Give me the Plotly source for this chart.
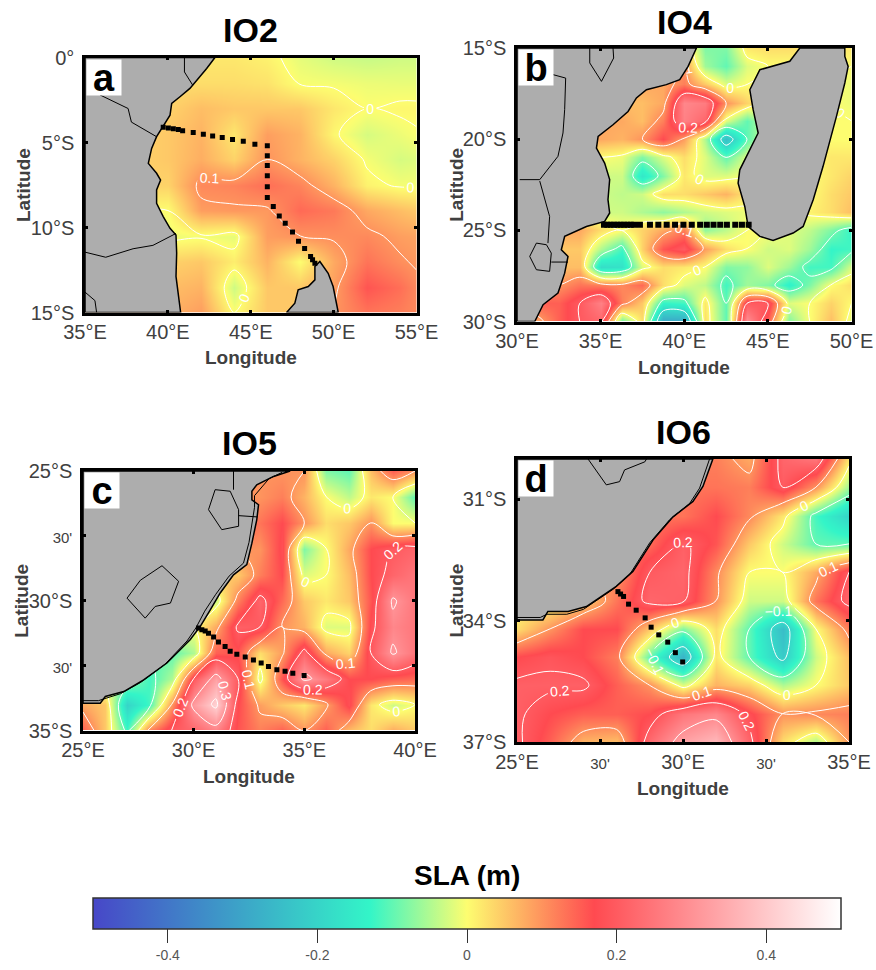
import plotly.graph_objects as go

W, H = 876, 970
GRAY = "#adadad"
TXT = "#404040"
SERIF = "Liberation Sans, Arial, sans-serif"

COLORSCALE_STOPS = [-0.5, -0.13, 0.0, 0.17, 0.5]
COLORSCALE_COLORS = ["#4747c8", "#33f5c8", "#fdfd70", "#ff4a50", "#ffffff"]

# ---------- Panel a (IO2)
LON_A = [35, 38, 40, 42, 44, 46, 48, 50, 52, 54, 55]
LAT_A = [0, -1.5, -3, -4.5, -6, -7.5, -9, -10.5, -12, -13.5, -15]
Z_A = [
    [.03, .03, .03, .02, .02, .01, -.015, -.03, -.035, -.03, -.03],
    [.03, .03, .03, .03, .03, .025, -.003, -.005, -.01, -.012, -.012],
    [.04, .04, .04, .06, .05, .05, .05, .02, .0, .005, .005],
    [.04, .04, .05, .07, .02, .09, .07, .005, -.025, -.01, -.002],
    [.04, .04, .05, .075, .04, .10, .07, .04, -.005, -.025, -.02],
    [.04, .04, .04, .11, .115, .135, .115, .07, .01, -.005, -.005],
    [.0, .0, .0, .09, .095, .095, .14, .125, .08, .06, .05],
    [-.01, -.01, -.01, -.005, -.015, .09, .10, .105, .11, .09, .085],
    [.04, .04, .04, .05, .015, .07, .0, .08, .13, .105, .095],
    [.06, .06, .06, .07, -.03, .05, .05, .09, .16, .135, .11],
    [.07, .07, .07, .09, .0, .05, .05, .10, .13, .12, .11],
]
LAND_A = [
    ([35, 42.84, 42.34, 41.73, 41.33, 40.73, 40.23, 40.13, 39.72, 39.32, 39.02, 38.82, 39.32, 39.56, 39.32, 39.32,
      39.72, 40.13, 40.49, 40.53, 40.49, 40.63, 40.77, 35, 35],
     [0, 0, -.65, -1.33, -1.82, -2.31, -2.7, -3.39, -4.07, -4.66, -5.35, -6.23, -6.81, -7.21, -7.79, -8.58,
      -9.36, -10.05, -10.44, -11.51, -12.88, -13.86, -15, -15, 0]),
    ([50.28, 49.97, 49.67, 49.17, 48.87, 48.87, 48.47, 47.86, 47.66, 47.16, 50.28],
     [-15, -13.47, -12.69, -12.0, -12.3, -13.08, -13.47, -13.67, -14.45, -15, -15]),
]
BORDERS_A = [
    ([35.9, 37.6, 37.8, 39.32], [-2.2, -3.0, -3.8, -4.66]),
    ([35, 36.25, 37.9, 39.1, 40.49], [-11.45, -11.75, -11.25, -11.05, -10.35]),
    ([41.0, 41.0, 41.5], [0, -.85, -1.63]),
    ([35, 35.6, 35.7], [-13.8, -14.3, -15]),
]
SEC_LON_A = [39.72, 40.03, 40.33, 40.63, 40.89, 41.53, 42.14, 42.70, 43.28, 43.90, 44.55, 45.25, 46.0, 46, 46, 46, 46,
             46, 46.36, 46.72, 47.08, 47.52, 47.88, 48.25, 48.61, 48.73, 48.87]
SEC_LAT_A = [-4.11, -4.15, -4.19, -4.23, -4.31, -4.41, -4.52, -4.62, -4.70, -4.82, -4.93, -5.11, -5.19, -5.78, -6.36,
             -6.95, -7.6, -8.24, -8.77, -9.32, -9.75, -10.26, -10.81, -11.24, -11.71, -11.9, -12.1]

# ---------- Panel b (IO4)
LON_B = [30, 31.25, 32.5, 33.75, 35, 36.25, 37.5, 38.75, 40, 41.25, 42.5, 43.75, 45, 46.25, 47.5, 48.75, 50]
LAT_B = [-15, -16, -17, -18, -19, -20, -21, -22, -23, -24, -25, -26, -27, -28, -29, -30]
Z_B = [
    [.05, .05, .05, .05, .05, .05, .05, .05, .05, -.08, -.08, .02, .03, .03, .02, .02, .02],
    [.08, .08, .08, .08, .08, .08, .08, .08, .10, -.06, -.10, -.02, .0, .0, .0, .0, .0],
    [.08, .08, .08, .08, .08, .08, .08, .08, .12, .05, -.02, .0, .0, .0, .0, .0, -.01],
    [.06, .06, .06, .06, .06, .06, .06, .08, .28, .26, .10, .04, .0, .0, .0, .0, -.01],
    [.08, .08, .08, .08, .08, .08, .06, .12, .27, .22, -.02, -.10, -.02, .0, .0, .0, .0],
    [.08, .08, .08, .08, .08, .07, .10, .17, .09, -.05, -.25, -.10, -.02, .0, .0, .0, .0],
    [.0, .0, .0, .0, .0, -.01, -.08, -.02, .03, -.02, -.10, -.02, .0, .0, .0, .02, .02],
    [-.03, -.03, -.03, -.03, -.03, -.03, -.16, -.08, .02, -.02, -.02, .0, .0, .0, .0, .02, .04],
    [-.03, -.03, -.03, -.03, -.03, -.04, -.03, .03, .03, .05, .07, .02, .0, .0, .0, .03, .05],
    [-.03, -.03, -.03, -.03, -.03, -.03, -.05, -.07, -.05, -.03, -.02, -.01, .0, .0, .01, .03, .06],
    [.08, .08, .08, .08, .03, .0, .04, .08, .12, -.07, -.04, .0, .0, -.02, -.04, -.08, -.13],
    [.05, .05, .05, .05, -.05, -.12, .04, .16, .2, .09, .03, .0, -.03, -.02, -.06, -.13, -.12],
    [.06, .06, .06, .06, -.18, -.17, -.02, .03, .02, .0, -.08, -.07, -.02, -.06, -.12, -.12, -.02],
    [.1, .1, .1, .13, .12, .11, .14, .03, -.02, -.04, -.12, -.06, -.08, -.14, -.08, .0, .03],
    [.15, .15, .15, .2, .27, .12, .05, -.13, -.12, .02, -.1, .2, .2, -.02, .0, .04, .0],
    [.08, .08, .15, .2, .22, -.1, .03, -.3, -.3, .03, -.1, .3, .15, -.08, .0, .06, -.02],
]
LAND_B = [
    ([30, 40.73, 40.23, 39.73, 38.93, 37.74, 37.14, 36.64, 35.74, 34.85, 34.75, 35.24, 35.54, 35.44, 35.54, 35.24,
      34.15, 32.85, 32.65, 33.05, 32.85, 32.45, 31.56, 31.06, 30, 30],
     [-15, -15, -16.01, -16.74, -17.01, -17.29, -17.74, -18.48, -19.21, -19.85, -20.49, -21.31, -22.22, -23.32, -24.05, -24.51,
      -24.79, -25.33, -26.07, -26.43, -27.35, -28.44, -29.08, -30, -30, -15]),
    ([46.91, 46.31, 44.52, 43.92, 44.12, 44.42, 43.32, 43.22, 43.62, 43.82, 44.52, 45.31, 46.51, 47.11, 47.71, 48.30,
      49.10, 49.60, 49.80, 49.60, 49.60, 46.91],
     [-15, -15.73, -16.19, -17.29, -18.38, -19.66, -21.68, -22.41, -23.69, -24.79, -25.33, -25.55, -25.15, -24.79, -23.32, -21.49,
      -18.75, -16.92, -16.01, -15.46, -15, -15]),
]
BORDERS_B = [
    ([34.35, 34.35, 35.05, 35.78, 35.74], [-15, -15.82, -16.83, -15.55, -15]),
    ([32.15, 32.91, 32.85, 32.75, 32.45, 31.36, 30.16], [-16.46, -16.65, -18.38, -19.66, -20.94, -22.22, -22.22]),
    ([31.36, 31.95, 31.85], [-22.3, -24.24, -25.7]),
    ([31.16, 30.76, 31.16, 31.95, 32.05, 31.76, 31.16], [-25.7, -26.43, -27.16, -27.25, -26.25, -25.79, -25.7]),
    ([32.05, 33.05], [-26.74, -26.74]),
]
SEC_LON_B = [35.2, 35.4, 35.6, 35.8, 36, 36.2, 36.4, 36.6, 36.8, 37.0, 37.35, 37.95, 38.45, 38.95, 39.45, 39.95, 40.45,
             40.95, 41.35, 41.75, 42.15, 42.55, 43.05, 43.45, 43.85]
SEC_LAT_B = [-24.7] * 25

# ---------- Panel c (IO5)
LON_C = [25, 26, 27, 28, 29, 30, 31, 32, 33, 34, 35, 36, 37, 38, 39, 40]
LAT_C = [-25, -26, -27, -28, -29, -30, -31, -32, -33, -34, -35]
Z_C = [
    [.1, .1, .1, .1, .1, .1, .1, .1, .1, .1, .1, -.08, -.1, .06, .15, .1],
    [.1, .1, .1, .1, .1, .1, .1, .1, .1, .12, .07, .0, -.04, .02, .0, -.1],
    [.1, .1, .1, .1, .1, .1, .1, .15, .13, .17, .1, .03, .05, .1, .0, .0],
    [.1, .1, .1, .1, .1, .1, .1, .1, .1, .18, -.08, .0, .08, .17, .2, .22],
    [.05, .05, .05, .05, .05, .05, .05, .05, .12, .17, -.02, .0, .06, .17, .22, .25],
    [-.03, -.03, -.03, -.03, -.03, -.03, -.03, .12, .22, .14, .05, .02, .05, .16, .31, .25],
    [.0, .0, .0, .0, .0, .0, .08, .21, .2, .1, .07, -.02, -.02, .18, .28, .25],
    [-.1, -.1, -.1, -.1, -.1, -.05, .15, .16, .03, .09, .22, .08, .04, .2, .31, .25],
    [-.05, -.05, -.05, -.12, -.05, .2, .33, .2, -.02, .16, .32, .26, .17, .17, .15, .14],
    [.08, .05, -.2, -.12, .1, .32, .42, .17, .09, .05, .02, .09, .18, .02, -.03, .0],
    [.15, .05, -.12, .12, .2, .22, .27, .16, .12, .15, .1, .15, .06, .03, .08, .05],
]
LAND_C = [
    ([25, 34.36, 33.61, 32.85, 32.63, 32.63, 32.93, 32.85, 32.63, 32.40, 31.80, 31.2, 30.75, 30.3, 29.84, 28.79, 27.74,
      26.84, 26.01, 25.78, 25, 25],
     [-25, -25, -25.21, -25.53, -25.78, -26.11, -26.3, -26.88, -27.78, -28.61, -29.0, -29.7, -30.35, -30.99, -31.5, -32.4, -33.05,
      -33.5, -33.69, -33.95, -33.95, -25]),
]
BORDERS_C = [
    ([31.8, 31.8], [-25, -25.72]),
    ([30.97, 30.67, 31.27, 32.03, 32.03, 31.65, 30.97], [-25.72, -26.49, -27.26, -27.13, -26.49, -25.78, -25.72]),
    ([32.03, 32.88], [-26.72, -26.77]),
    ([28.57, 29.32, 28.95, 28.26, 27.81, 26.99, 27.59, 28.57], [-28.65, -29.25, -30.09, -30.22, -30.67, -29.9, -29.21, -28.65]),
    ([34.0, 33.4, 32.75, 32.75, 32.5, 32.25, 31.6, 31.0, 30.5, 30.1, 29.7, 28.7, 27.6, 26.7, 25.95, 25.7, 25],
     [-25.05, -25.3, -25.95, -26.4, -27.75, -28.55, -29.05, -29.75, -30.4, -31.05, -31.55, -32.45, -33.15, -33.58, -33.78, -33.85, -33.85]),
]
SEC_LON_C = [30.22, 30.37, 30.52, 30.67, 30.9, 31.12, 31.42, 31.65, 31.95, 32.33, 32.70, 33.05, 33.38, 33.76, 34.13, 34.48, 34.99]
SEC_LAT_C = [-31.05, -31.12, -31.17, -31.25, -31.4, -31.59, -31.76, -31.95, -32.06, -32.17, -32.28, -32.4, -32.53, -32.66, -32.72, -32.79, -32.88]

# ---------- Panel d (IO6)
LON_D = [25, 26, 27, 28, 29, 30, 31, 32, 33, 34, 35]
LAT_D = [-30, -30.7, -31.4, -32.1, -32.8, -33.5, -34.2, -34.9, -35.6, -36.3, -37]
Z_D = [
    [.12, .12, .12, .12, .12, .12, .12, .08, .22, .25, .02],
    [.13, .13, .13, .13, .13, .13, .13, .12, .2, .1, -.06],
    [.13, .13, .13, .13, .13, .13, .17, .11, .02, -.12, -.2],
    [.14, .14, .14, .14, .14, .21, .16, .05, -.03, -.1, -.1],
    [.1, .1, .1, .1, .2, .22, .11, .0, .0, .08, .2],
    [.0, .0, .04, .13, .22, .21, .1, -.03, -.03, .13, .22],
    [.03, .1, .17, .17, .05, -.08, .03, -.1, -.25, .0, .12],
    [.17, .19, .17, .12, -.1, -.27, .02, -.1, -.22, -.03, .06],
    [.21, .21, .21, .15, .1, -.02, .07, .04, -.05, .0, .05],
    [.21, .17, .15, .15, .17, .25, .28, .18, .1, .11, .12],
    [.21, .15, .07, .06, .23, .33, .37, .22, .03, -.05, .1],
]
LAND_D = [
    ([25, 30.9, 30.6, 30.3, 29.7, 29.1, 28.49, 27.99, 27.09, 26.54, 25.93, 25.78, 25, 25],
     [-30, -30, -30.68, -31.05, -31.43, -32.0, -32.78, -33.15, -33.65, -33.77, -33.77, -33.98, -33.98, -30]),
]
BORDERS_D = [
    ([27.14, 27.69, 28.09, 28.24, 28.85, 28.9], [-30, -30.64, -30.56, -30.27, -30.07, -30]),
    ([30.8, 30.5, 30.2, 29.6, 29.0, 28.4, 27.9, 27.0, 26.5, 25.9, 25.7, 25],
     [-30, -30.72, -31.1, -31.5, -32.07, -32.85, -33.22, -33.72, -33.84, -33.84, -33.92, -33.92]),
]
SEC_LON_D = [28.04, 28.12, 28.21, 28.36, 28.59, 28.86, 29.04, 29.27, 29.54, 29.77, 29.99]
SEC_LAT_D = [-33.28, -33.34, -33.4, -33.59, -33.74, -33.93, -34.16, -34.35, -34.53, -34.79, -35.02]

TITLES = ["IO2", "IO4", "IO5", "IO6"]
LETTERS = ["a", "b", "c", "d"]
XTICKS = [[35, 40, 45, 50, 55], [30, 35, 40, 45, 50], [25, 30, 35, 40], [25, 27.5, 30, 32.5, 35]]
XTEXT = [["35°E", "40°E", "45°E", "50°E", "55°E"], ["30°E", "35°E", "40°E", "45°E", "50°E"],
         ["25°E", "30°E", "35°E", "40°E"],
         ["25°E", "<span style='font-size:15px'>30'</span>", "30°E", "<span style='font-size:15px'>30'</span>", "35°E"]]
YTICKS = [[0, -5, -10, -15], [-15, -20, -25, -30], [-25, -27.5, -30, -32.5, -35], [-31, -34, -37]]
YTEXT = [["0°", "5°S", "10°S", "15°S"], ["15°S", "20°S", "25°S", "30°S"],
         ["25°S", "<span style='font-size:15px'>30'</span>", "30°S", "<span style='font-size:15px'>30'</span>", "35°S"],
         ["31°S", "34°S", "37°S"]]
XRANGE = [[35, 55], [30, 50], [25, 40], [25, 35]]
YRANGE = [[-15, 0], [-30, -15], [-35, -25], [-37, -30]]
CB_TICKS = [-0.4, -0.2, 0, 0.2, 0.4]
CB_TEXT = ["-0.4", "-0.2", "0", "0.2", "0.4"]

# pixel boxes in the page: left, right, top, bottom
BOXES = [(85, 416.5, 57.5, 312.5), (517, 851.5, 48, 321.5), (83, 415, 471, 730.5), (517, 849, 459, 742)]
TITLE_Y = [30, 22, 443, 432]
LON_LAB_Y = [357, 367, 776, 788]
LAT_LAB_X = [23, 457, 22, 456]
SEC_SIZE = [5, 6, 5, 5]


def fx(px):
    return px / W


def fy(py):
    return 1 - py / H


DATA = [
    (LON_A, LAT_A, Z_A, LAND_A, BORDERS_A, SEC_LON_A, SEC_LAT_A),
    (LON_B, LAT_B, Z_B, LAND_B, BORDERS_B, SEC_LON_B, SEC_LAT_B),
    (LON_C, LAT_C, Z_C, LAND_C, BORDERS_C, SEC_LON_C, SEC_LAT_C),
    (LON_D, LAT_D, Z_D, LAND_D, BORDERS_D, SEC_LON_D, SEC_LAT_D),
]

fig = go.Figure()
annotations = []
layout_axes = {}
for i, (lon, lat, z, land, borders, slon, slat) in enumerate(DATA):
    sx = "" if i == 0 else str(i + 1)
    xa, ya = "x" + sx, "y" + sx
    L, R, T, B = BOXES[i]
    fig.add_trace(go.Contour(
        x=lon, y=lat, z=z, xaxis=xa, yaxis=ya, coloraxis="coloraxis", name=TITLES[i],
        contours=dict(coloring="heatmap", showlabels=True, start=-0.4, end=0.4, size=0.1,
                      labelfont=dict(color="white", size=14, family=SERIF)),
        line=dict(color="white", width=1, smoothing=1.0),
        showlegend=False, hoverinfo="skip",
    ))
    for lx, ly in land:
        fig.add_trace(go.Scatter(x=lx, y=ly, xaxis=xa, yaxis=ya, mode="lines", fill="toself", fillcolor=GRAY,
                                 line=dict(color="black", width=1.5), showlegend=False, hoverinfo="skip"))
    for bx, by in borders:
        fig.add_trace(go.Scatter(x=bx, y=by, xaxis=xa, yaxis=ya, mode="lines",
                                 line=dict(color="black", width=1), showlegend=False, hoverinfo="skip"))
    fig.add_trace(go.Scatter(x=slon, y=slat, xaxis=xa, yaxis=ya, mode="markers",
                             marker=dict(symbol="square", color="black", size=SEC_SIZE[i]),
                             showlegend=False, hoverinfo="skip"))
    common = dict(showgrid=False, zeroline=False, showline=True, linecolor="black", linewidth=2.5, mirror="ticks",
                  ticks="inside", ticklen=3, tickwidth=3, tickcolor="black",
                  tickfont=dict(size=20, color=TXT, family=SERIF))
    layout_axes["xaxis" + sx] = dict(domain=[fx(L), fx(R)], range=XRANGE[i], anchor=ya, tickmode="array",
                                     tickvals=XTICKS[i], ticktext=XTEXT[i], **common)
    layout_axes["yaxis" + sx] = dict(domain=[fy(B), fy(T)], range=YRANGE[i], anchor=xa, tickmode="array",
                                     tickvals=YTICKS[i], ticktext=YTEXT[i], ticklabelstandoff=4, **common)
    cx = (L + R) / 2
    annotations.append(dict(text="<b>%s</b>" % TITLES[i], x=fx(cx), y=fy(TITLE_Y[i]), xref="paper", yref="paper",
                            showarrow=False, xanchor="center", yanchor="middle",
                            font=dict(size=34, color="black", family=SERIF)))
    annotations.append(dict(text="<b>Longitude</b>", x=fx(cx), y=fy(LON_LAB_Y[i]), xref="paper", yref="paper",
                            showarrow=False, xanchor="center", yanchor="middle",
                            font=dict(size=19, color=TXT, family=SERIF)))
    annotations.append(dict(text="<b>Latitude</b>", x=fx(LAT_LAB_X[i]), y=fy((T + B) / 2), xref="paper", yref="paper",
                            showarrow=False, xanchor="center", yanchor="middle", textangle=-90,
                            font=dict(size=19, color=TXT, family=SERIF)))
    annotations.append(dict(text="<b>%s</b>" % LETTERS[i], x=fx(L + 1), y=fy(T + 1), xref="paper", yref="paper",
                            showarrow=False, xanchor="left", yanchor="top", bgcolor="white", width=34, height=35,
                            borderpad=0, font=dict(size=38, color="black", family=SERIF)))

annotations.append(dict(text="<b>SLA (m)</b>", x=fx(467), y=fy(875), xref="paper", yref="paper", showarrow=False,
                        xanchor="center", yanchor="middle", font=dict(size=28, color="black", family=SERIF)))

scale = [[(v + 0.5), c] for v, c in zip(COLORSCALE_STOPS, COLORSCALE_COLORS)]
fig.update_layout(
    width=W, height=H, margin=dict(l=0, r=0, t=0, b=0, autoexpand=False), paper_bgcolor="white", plot_bgcolor="white",
    showlegend=False, annotations=annotations,
    coloraxis=dict(cmin=-0.5, cmax=0.5, colorscale=scale, colorbar=dict(
        orientation="h", x=fx(467), xanchor="center", y=fy(898), yanchor="top",
        len=748, lenmode="pixels", thickness=31, thicknessmode="pixels", xpad=0, ypad=0,
        outlinecolor="#333333", outlinewidth=1.5, ticks="outside", ticklen=14, tickwidth=1, tickcolor="#333333",
        tickmode="array", tickvals=CB_TICKS, ticktext=CB_TEXT, tickfont=dict(size=14, color="#555555", family=SERIF),
    )),
    **layout_axes,
)
fig.write_html("out.html", config={"displayModeBar": False},
               post_script="document.body.style.margin='0';document.body.style.overflow='hidden';")
